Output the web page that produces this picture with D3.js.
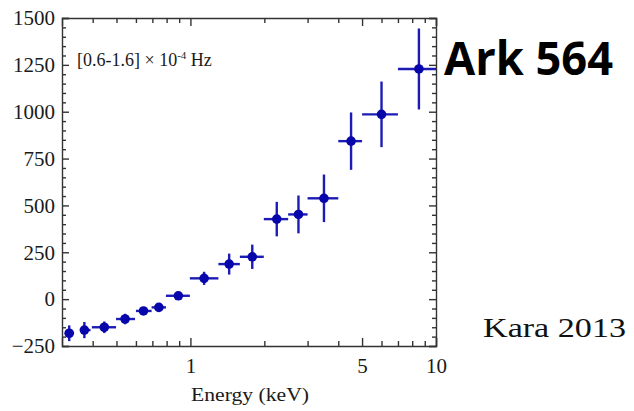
<!DOCTYPE html>
<html>
<head>
<meta charset="utf-8">
<script src="https://cdn.jsdelivr.net/npm/d3@7"></script>
<style>
  body { margin: 0; background: #fff; }
  svg { display: block; }
  .axis path, .axis line { stroke: #333; stroke-width: 1.4px; }
</style>
</head>
<body>
<div id="chart"></div>
<script>
// data (energy in keV, lag value)
var energy   = [0.321, 0.370, 0.446, 0.542, 0.644, 0.744, 0.893, 1.137, 1.438, 1.786, 2.247, 2.754, 3.498, 4.51, 6.0, 8.52];
var energyLo = [0.308, 0.355, 0.397, 0.498, 0.600, 0.695, 0.795, 0.995, 1.30, 1.59, 1.99, 2.50, 3.0, 4.0, 5.0, 7.0];
var energyHi = [0.336, 0.392, 0.498, 0.595, 0.695, 0.795, 0.995, 1.30, 1.59, 1.99, 2.50, 3.0, 4.0, 5.0, 7.0, 10.0];
var lagValue = [-182, -165, -150, -106, -63, -44, 18, 111, 187, 226, 427, 452, 538, 843, 986, 1228];
var lagErr   = [42, 43, 31, 28, 18, 15, 15, 35, 56, 65, 92, 101, 127, 153, 175, 216];

var xMajor = [1, 5, 10];
var xMinor = [0.4, 0.5, 0.6, 0.7, 0.8, 0.9, 2, 3, 4, 6, 7, 8, 9];
var yMajor = [-250, 0, 250, 500, 750, 1000, 1250, 1500];
var yMinor = d3.range(-200, 1500, 50).filter(function (v) { return v % 250 !== 0; });

//////////////////////////////
// SVG AND GRAPH DIMENSIONS //
//////////////////////////////
var svgWidth = 634, svgHeight = 411;
var margin = { top: 18, right: 198, bottom: 65, left: 62 };
var width = svgWidth - margin.left - margin.right,
    height = svgHeight - margin.top - margin.bottom;

var serif = "'Liberation Serif', 'Times New Roman', serif";

var svg = d3.select("#chart").append("svg")
  .attr("width", svgWidth)
  .attr("height", svgHeight);

var g = svg.append("g")
  .attr("transform", "translate(" + margin.left + "," + margin.top + ")");

var x = d3.scaleLog().domain([0.3, 10]).range([0, width]);
var y = d3.scaleLinear().domain([-250, 1500]).range([height, 0]);

//////////
// AXES //
//////////
var fmtX = function (d) { return String(d); };

// bottom: labelled majors then minor ticks
g.append("g").attr("class", "axis")
  .attr("transform", "translate(0," + height + ")")
  .call(d3.axisBottom(x).tickValues(xMajor).tickSize(-8).tickPadding(12).tickFormat(fmtX));
g.append("g").attr("class", "axis")
  .attr("transform", "translate(0," + height + ")")
  .call(d3.axisBottom(x).tickValues(xMinor).tickSize(-5).tickFormat(""))
  .select(".domain").remove();

// top mirror
g.append("g").attr("class", "axis")
  .call(d3.axisTop(x).tickValues(xMajor).tickSize(-8).tickFormat(""));
g.append("g").attr("class", "axis")
  .call(d3.axisTop(x).tickValues(xMinor).tickSize(-5).tickFormat(""))
  .select(".domain").remove();

// left
g.append("g").attr("class", "axis")
  .call(d3.axisLeft(y).tickValues(yMajor).tickSize(-7).tickPadding(7).tickFormat(d3.format("d")));
g.append("g").attr("class", "axis")
  .call(d3.axisLeft(y).tickValues(yMinor).tickSize(-4).tickFormat(""))
  .select(".domain").remove();

// right mirror
g.append("g").attr("class", "axis")
  .attr("transform", "translate(" + width + ",0)")
  .call(d3.axisRight(y).tickValues(yMajor).tickSize(-7).tickFormat(""));
g.append("g").attr("class", "axis")
  .attr("transform", "translate(" + width + ",0)")
  .call(d3.axisRight(y).tickValues(yMinor).tickSize(-4).tickFormat(""))
  .select(".domain").remove();

g.selectAll(".axis .domain").attr("stroke-width", 1.6);
g.selectAll(".axis")
  .attr("font-family", serif)
  .attr("font-size", 21);
g.selectAll(".axis text")
  .attr("fill", "#1a1a1a")
  .style("font-family", serif)
  .style("font-size", "21px");

// x axis title
g.append("text")
  .attr("x", 188)
  .attr("y", height + 55)
  .attr("text-anchor", "middle")
  .attr("textLength", 118)
  .attr("lengthAdjust", "spacingAndGlyphs")
  .style("font-family", serif)
  .style("font-size", "19px")
  .style("fill", "#1a1a1a")
  .text("Energy (keV)");

// frequency band label
var band = g.append("text")
  .attr("x", 15)
  .attr("y", 48)
  .style("font-family", serif)
  .style("font-size", "18px")
  .style("fill", "#1a1a1a");
band.append("tspan").text("[0.6-1.6] \u00d7 10");
band.append("tspan").attr("dy", -7).style("font-size", "11px").text("-4");
band.append("tspan").attr("dy", 7).text(" Hz");

//////////
// DATA //
//////////
var data = energy.map(function (e, i) {
  return { e: e, lo: energyLo[i], hi: energyHi[i], v: lagValue[i], err: lagErr[i] };
});

var blueLine = "#1c1cb4", blueDot = "#0606aa";

var pts = g.append("g").selectAll("g.pt")
  .data(data)
  .enter().append("g").attr("class", "pt");

pts.append("line")
  .attr("x1", function (d) { return x(d.lo); })
  .attr("x2", function (d) { return x(d.hi); })
  .attr("y1", function (d) { return y(d.v); })
  .attr("y2", function (d) { return y(d.v); })
  .attr("stroke", blueLine)
  .attr("stroke-width", 2.4);

pts.append("line")
  .attr("x1", function (d) { return x(d.e); })
  .attr("x2", function (d) { return x(d.e); })
  .attr("y1", function (d) { return y(d.v - d.err); })
  .attr("y2", function (d) { return y(d.v + d.err); })
  .attr("stroke", blueLine)
  .attr("stroke-width", 2.4);

pts.append("circle")
  .attr("cx", function (d) { return x(d.e); })
  .attr("cy", function (d) { return y(d.v); })
  .attr("r", 4.8)
  .attr("fill", blueDot);

/////////////////
// ANNOTATIONS //
/////////////////
svg.append("text")
  .attr("x", 444)
  .attr("y", 75)
  .attr("textLength", 169)
  .attr("lengthAdjust", "spacingAndGlyphs")
  .style("font-family", "'Open Sans', 'Noto Sans', sans-serif")
  .style("font-weight", "bold")
  .style("font-size", "47px")
  .style("fill", "#000")
  .text("Ark 564");

svg.append("text")
  .attr("x", 483)
  .attr("y", 337)
  .attr("textLength", 143)
  .attr("lengthAdjust", "spacingAndGlyphs")
  .style("font-family", serif)
  .style("font-size", "27px")
  .style("fill", "#111")
  .text("Kara 2013");
</script>
</body>
</html>
